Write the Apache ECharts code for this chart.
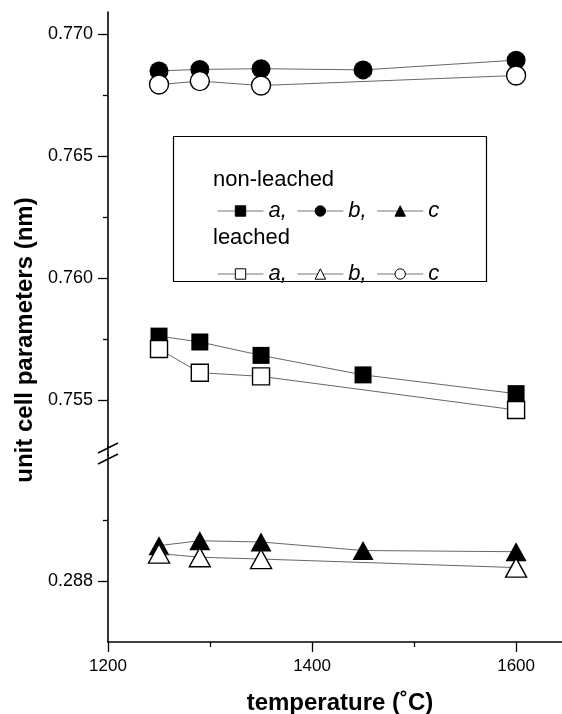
<!DOCTYPE html>
<html>
<head>
<meta charset="utf-8">
<script src="https://cdn.jsdelivr.net/npm/echarts@6/dist/echarts.min.js"></script>
<style>
  html, body { margin: 0; padding: 0; background: #fff; }
  #main { width: 562px; height: 714px; }
</style>
</head>
<body>
<div id="main"></div>
<script>
// temperatures (°C)
const temps = [1250, 1290, 1350, 1450, 1600];
const tempsLeached = [1250, 1290, 1350, 1600];

// non-leached
const nlA = [0.75762, 0.75738, 0.75683, 0.75603, 0.75526];
const nlB = [0.76850, 0.76856, 0.76859, 0.76854, 0.76894];
const nlC = [0.28858, 0.28866, 0.28864, 0.28850, 0.28848];

// leached (named like the legend: square a, triangle b, circle c)
const lA = [0.75709, 0.75612, 0.75597, 0.75459];
const lB = [0.28845, 0.28839, 0.28836, 0.28822];
const lC = [0.76794, 0.76808, 0.76790, 0.76831];

// ticks
const xTicks = [1200, 1400, 1600];
const xMinor = [1300, 1500];
const upperTicks = [0.755, 0.760, 0.765, 0.770];
const upperMinor = [0.7575, 0.7625, 0.7675];
const lowerTicks = [0.288];
const lowerMinor = [0.289];

const legendText = {
  'non-leached a': 'a,', 'non-leached b': 'b,', 'non-leached c': 'c',
  'leached a': 'a,', 'leached b': 'b,', 'leached c': 'c'
};

const FONT = "'Liberation Sans', Arial, Helvetica, sans-serif";

const pairs = (xs, ys) => xs.map((x, i) => [x, ys[i]]);

const chart = echarts.init(document.getElementById('main'), null, { renderer: 'canvas' });

function yAx(grid, min, max, ticks, len, withLabels) {
  return {
    type: 'value',
    gridIndex: grid,
    min: min,
    max: max,
    position: 'left',
    splitLine: { show: false },
    axisLine: { show: withLabels, lineStyle: { color: '#000', width: 1.6 } },
    axisTick: { show: true, customValues: ticks, length: len, lineStyle: { color: '#000', width: 1.3 } },
    axisLabel: {
      show: withLabels,
      customValues: ticks,
      margin: 15,
      fontSize: 18,
      fontFamily: FONT,
      color: '#000',
      formatter: v => v.toFixed(3)
    }
  };
}

function xAx(ticks, len, withLabels) {
  return {
    type: 'value',
    gridIndex: 1,
    min: 1200,
    max: 1645,
    position: 'bottom',
    splitLine: { show: false },
    axisLine: { show: withLabels, onZero: false, lineStyle: { color: '#000', width: 1.6 } },
    axisTick: { show: true, customValues: ticks, length: len, lineStyle: { color: '#000', width: 1.3 } },
    axisLabel: {
      show: withLabels,
      customValues: ticks,
      margin: 16,
      fontSize: 17,
      fontFamily: FONT,
      color: '#000',
      formatter: v => String(v)
    }
  };
}

function line(name, xs, ys, symbol, size, filled, xi, yi) {
  return {
    name: name,
    type: 'line',
    xAxisIndex: xi,
    yAxisIndex: yi,
    data: pairs(xs, ys),
    symbol: symbol,
    symbolSize: size,
    showSymbol: true,
    lineStyle: { color: '#555', width: 0.9 },
    itemStyle: filled
      ? { color: '#000', borderColor: '#000', borderWidth: 0 }
      : { color: '#fff', borderColor: '#000', borderWidth: 1.4 },
    emphasis: { disabled: true },
    z: filled ? 2 : 3
  };
}

const legendBase = {
  orient: 'horizontal',
  left: 212,
  itemWidth: 46,
  itemHeight: 13,
  itemGap: 10,
  selectedMode: false,
  itemStyle: { borderWidth: 1 },
  lineStyle: { color: '#777', width: 1 },
  formatter: name => legendText[name],
  textStyle: { fontSize: 22, fontStyle: 'italic', fontFamily: FONT, color: '#000' }
};

const option = {
  animation: false,
  backgroundColor: '#fff',
  grid: [
    { left: 108, right: -4, top: 12, bottom: 267 },
    { left: 108, right: -4, top: 455, bottom: 72 }
  ],
  xAxis: [
    { type: 'value', gridIndex: 0, min: 1200, max: 1645, show: false },
    xAx(xTicks, 10, true),
    xAx(xMinor, 5, false)
  ],
  yAxis: [
    yAx(0, 0.753072, 0.770915, upperTicks, 10, true),
    yAx(0, 0.753072, 0.770915, upperMinor, 5, false),
    yAx(1, 0.287, 0.290066, lowerTicks, 10, true),
    yAx(1, 0.287, 0.290066, lowerMinor, 5, false)
  ],
  legend: [
    Object.assign({}, legendBase, { top: 195, data: ['non-leached a', 'non-leached b', 'non-leached c'] }),
    Object.assign({}, legendBase, { top: 258, data: ['leached a', 'leached b', 'leached c'] })
  ],
  series: [
    line('non-leached b', temps, nlB, 'circle', 19, true, 0, 0),
    line('leached c', tempsLeached, lC, 'circle', 19, false, 0, 0),
    line('non-leached a', temps, nlA, 'rect', 17, true, 0, 0),
    line('leached a', tempsLeached, lA, 'rect', 17, false, 0, 0),
    line('non-leached c', temps, nlC, 'triangle', [21, 19], true, 1, 2),
    line('leached b', tempsLeached, lB, 'triangle', [21, 19], false, 1, 2)
  ],
  graphic: [
    // legend frame and headings
    { type: 'rect', shape: { x: 173.5, y: 136.5, width: 313, height: 145 }, style: { fill: 'none', stroke: '#000', lineWidth: 1.2 }, z: 1 },
    { type: 'text', x: 213, y: 180, style: { text: 'non-leached', fontSize: 22, fontFamily: FONT, fill: '#000', textAlign: 'left', textVerticalAlign: 'middle', align: 'left', verticalAlign: 'middle' } },
    { type: 'text', x: 213, y: 238, style: { text: 'leached', fontSize: 22, fontFamily: FONT, fill: '#000', textAlign: 'left', textVerticalAlign: 'middle', align: 'left', verticalAlign: 'middle' } },
    // axis break
    { type: 'line', shape: { x1: 108, y1: 446, x2: 108, y2: 456 }, style: { stroke: '#000', lineWidth: 1.6 } },
    { type: 'line', shape: { x1: 98, y1: 453, x2: 118, y2: 443 }, style: { stroke: '#000', lineWidth: 1.4 } },
    { type: 'line', shape: { x1: 98, y1: 464, x2: 118, y2: 454 }, style: { stroke: '#000', lineWidth: 1.4 } },
    // axis titles
    { type: 'text', x: 340, y: 703, style: { text: 'temperature (˚C)', fontSize: 24, fontWeight: 'bold', fontFamily: FONT, fill: '#000', textAlign: 'center', textVerticalAlign: 'middle', align: 'center', verticalAlign: 'middle' } },
    { type: 'text', x: 25, y: 340, rotation: Math.PI / 2, style: { text: 'unit cell parameters (nm)', fontSize: 24, fontWeight: 'bold', fontFamily: FONT, fill: '#000', textAlign: 'center', textVerticalAlign: 'middle', align: 'center', verticalAlign: 'middle' } }
  ]
};

chart.setOption(option);
</script>
</body>
</html>
